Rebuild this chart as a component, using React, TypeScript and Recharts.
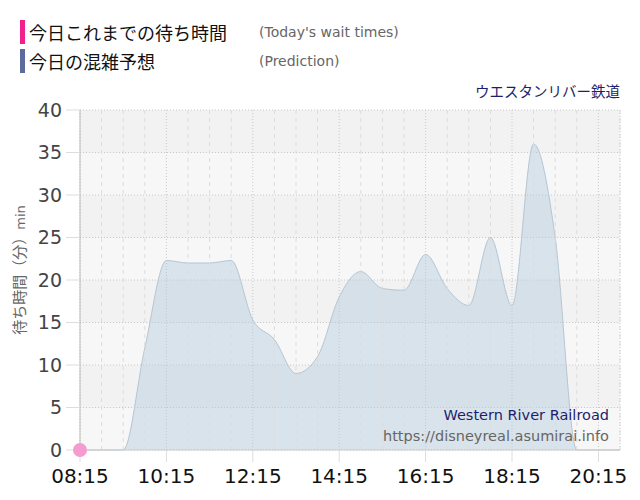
import React from "react";
import {
  ComposedChart,
  Area,
  Line,
  XAxis,
  YAxis,
  CartesianGrid,
  ReferenceLine,
} from "recharts";

// 30-minute slots, minutes since midnight (08:15 .. 20:45)
const times = [
  "08:15", "08:45", "09:15", "09:45", "10:15", "10:45", "11:15", "11:45",
  "12:15", "12:45", "13:15", "13:45", "14:15", "14:45", "15:15", "15:45",
  "16:15", "16:45", "17:15", "17:45", "18:15", "18:45", "19:15", "19:45",
  "20:15", "20:45",
];
const prediction = [
  0, 0, 0, 12, 22.3, 22, 22, 22.3, 15.3, 13, 9, 11, 18, 21, 19, 18.8, 23, 19,
  17, 25, 17, 36, 25, 0, 0, 0,
];
// today's actual wait times (only the first slot so far)
const actual: (number | null)[] = [0];

const xTickLabels = ["08:15", "10:15", "12:15", "14:15", "16:15", "18:15", "20:15"];
const yTicks = [0, 5, 10, 15, 20, 25, 30, 35, 40];

const toMin = (t: string) => {
  const [h, m] = t.split(":").map(Number);
  return h * 60 + m;
};
const fmt = (v: number) => {
  const h = Math.floor(v / 60);
  const m = v % 60;
  return `${String(h).padStart(2, "0")}:${String(m).padStart(2, "0")}`;
};

const data = times.map((t, i) => ({
  t: toMin(t),
  prediction: prediction[i],
  actual: actual[i] ?? null,
}));

const xTicks = xTickLabels.map(toMin);
const minorTicks = times.map(toMin).filter((v) => !xTicks.includes(v));

const FONT = '"DejaVu Sans", "Noto Sans CJK JP", sans-serif';
const JP = '"Noto Sans CJK JP", "DejaVu Sans", sans-serif';

export default function App() {
  return (
    <div
      style={{
        position: "absolute",
        left: 0,
        top: 0,
        width: 640,
        height: 500,
        background: "#fff",
        fontFamily: FONT,
      }}
    >
      {/* legend */}
      <div style={{ position: "absolute", left: 20, top: 20, width: 5, height: 24, background: "#f0218e" }} />
      <div style={{ position: "absolute", left: 29, top: 19, fontSize: 18, fontFamily: JP, color: "#111", lineHeight: "26px" }}>
        今日これまでの待ち時間
      </div>
      <div style={{ position: "absolute", left: 259, top: 20, fontSize: 14, color: "#666", lineHeight: "24px" }}>
        (Today's wait times)
      </div>
      <div style={{ position: "absolute", left: 20, top: 49, width: 5, height: 24, background: "#5c6b9c" }} />
      <div style={{ position: "absolute", left: 29, top: 48, fontSize: 18, fontFamily: JP, color: "#111", lineHeight: "26px" }}>
        今日の混雑予想
      </div>
      <div style={{ position: "absolute", left: 259, top: 49, fontSize: 14, color: "#666", lineHeight: "24px" }}>
        (Prediction)
      </div>
      <div style={{ position: "absolute", right: 20, top: 80, fontSize: 14.5, fontFamily: JP, color: "#1c1f6e", lineHeight: "22px" }}>
        ウエスタンリバー鉄道
      </div>

      <ComposedChart
        width={640}
        height={500}
        data={data}
        margin={{ top: 110, right: 20, bottom: 12, left: 20 }}
      >
        <CartesianGrid
          stroke="#c8c8c8"
          strokeDasharray="1 2"
          horizontalFill={["#f2f2f2", "#f7f7f7"]}
        />
        {minorTicks.map((v) => (
          <ReferenceLine key={v} x={v} stroke="#dcdcdc" strokeDasharray="4 4" />
        ))}
        <XAxis
          dataKey="t"
          type="number"
          domain={[toMin(times[0]), toMin(times[times.length - 1])]}
          ticks={xTicks}
          tickFormatter={fmt}
          height={38}
          tickSize={12}
          tickMargin={7}
          tick={{ fill: "#111", fontSize: 20, fontFamily: FONT }}
          tickLine={{ stroke: "#ddd" }}
          axisLine={{ stroke: "#ccc" }}
        />
        <YAxis
          domain={[0, 40]}
          ticks={yTicks}
          width={60}
          tickSize={14}
          tickMargin={4}
          tick={{ fill: "#444", fontSize: 19, fontFamily: FONT }}
          tickLine={{ stroke: "#ddd" }}
          axisLine={{ stroke: "#bbb" }}
        />
        <Area
          type="monotone"
          dataKey="prediction"
          stroke="#b5c6d3"
          strokeWidth={1}
          fill="#b4cadc"
          fillOpacity={0.45}
          isAnimationActive={false}
          dot={false}
          activeDot={false}
        />
        <Line
          type="monotone"
          dataKey="actual"
          stroke="#f0218e"
          strokeWidth={2}
          dot={{ r: 7, fill: "#f49bd0", stroke: "none" }}
          connectNulls={false}
          isAnimationActive={false}
        />
      </ComposedChart>

      {/* y-axis title */}
      <div
        style={{
          position: "absolute",
          left: 18,
          top: 270,
          transform: "translate(-50%, -50%) rotate(-90deg)",
          whiteSpace: "nowrap",
          fontSize: 15,
          fontFamily: JP,
          color: "#666",
        }}
      >
        待ち時間（分）<span style={{ fontFamily: FONT, fontSize: 13 }}>min</span>
      </div>

      {/* watermark */}
      <div style={{ position: "absolute", right: 31, top: 405, fontSize: 14.5, color: "#1c1f6e", lineHeight: "20px" }}>
        Western River Railroad
      </div>
      <div style={{ position: "absolute", right: 31, top: 426, fontSize: 14.5, color: "#666", lineHeight: "20px" }}>
        https://disneyreal.asumirai.info
      </div>
    </div>
  );
}
